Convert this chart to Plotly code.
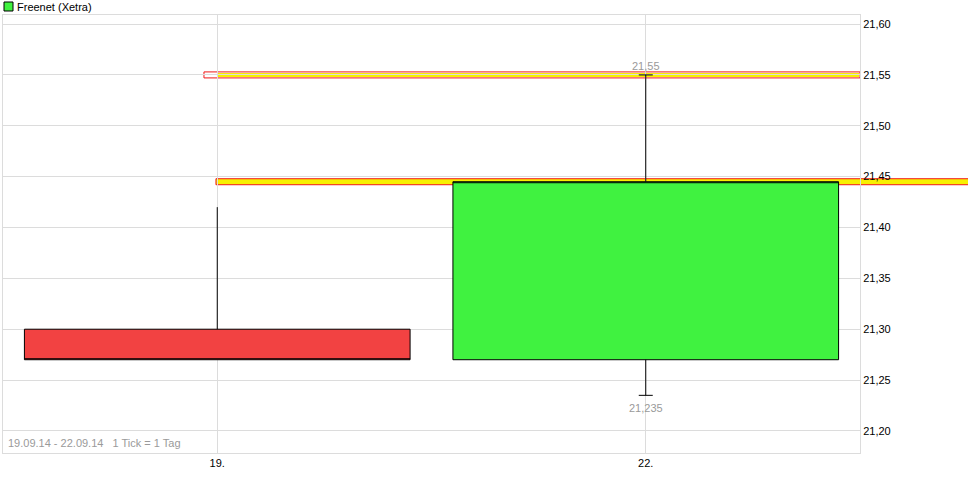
import plotly.graph_objects as go

# --- data ---
dates = ["19.", "22."]
opens = [21.30, 21.27]
highs = [21.42, 21.55]
lows = [21.27, 21.235]
closes = [21.27, 21.445]

# marker lines: period high and last price
level_high = 21.55
level_last = 21.445

y_ticks = [21.20, 21.25, 21.30, 21.35, 21.40, 21.45, 21.50, 21.55, 21.60]
title = "Freenet (Xetra)"
footer = "19.09.14 - 22.09.14   1 Tick = 1 Tag"

RED = "#f24242"
GREEN = "#40f240"
GRID = "#dcdcdc"
FONT = "Liberation Sans, Arial, sans-serif"


def fmt(v):
    return ("%g" % v).replace(".", ",")


fig = go.Figure()

fig.add_trace(go.Candlestick(
    x=dates, open=opens, high=highs, low=lows, close=closes,
    increasing=dict(fillcolor=GREEN, line=dict(color="black", width=1)),
    decreasing=dict(fillcolor=RED, line=dict(color="black", width=1)),
    showlegend=False, hoverinfo="skip",
))

# small caps at the period high and low (second day)
fig.add_trace(go.Scatter(
    x=[dates[1], dates[1]], y=[highs[1], lows[1]], mode="markers",
    marker=dict(symbol="line-ew", size=10, line=dict(color="black", width=1)),
    showlegend=False, hoverinfo="skip",
))

shapes = [
    # high line (outline starts a bit before the first day)
    dict(type="rect", xref="paper", yref="y", ysizemode="pixel", yanchor=level_high,
         x0=0.2345, x1=1.0, y0=-3, y1=3, fillcolor="white",
         line=dict(color="#f01818", width=1), layer="between"),
    dict(type="rect", xref="paper", yref="y", ysizemode="pixel", yanchor=level_high,
         x0=0.2497, x1=0.999, y0=-2, y1=2, fillcolor="#f8f000",
         line=dict(width=0), layer="between"),
    # last price line, runs past the axis labels
    dict(type="rect", xref="paper", yref="y", ysizemode="pixel", yanchor=level_last,
         x0=0.2485, x1=1.13, y0=-3, y1=3, fillcolor="#f8f000",
         line=dict(color="#f01818", width=1), layer="between"),
    # legend square
    dict(type="rect", xref="paper", yref="paper", xsizemode="pixel", ysizemode="pixel",
         xanchor=0, yanchor=1, x0=1, x1=10, y0=4, y1=13,
         fillcolor=GREEN, line=dict(color="black", width=1)),
]

i_last = dates.index(dates[1])
annotations = [
    dict(xref="paper", yref="paper", x=0.0163, y=1, xanchor="left", yanchor="bottom",
         text=title, showarrow=False, font=dict(size=11, color="black"), xshift=-2),
    dict(xref="paper", yref="paper", x=0.006, y=0, xanchor="left", yanchor="bottom",
         text=footer, showarrow=False, font=dict(size=11, color="#9a9a9a"),
         xshift=-2, yshift=2),
    dict(x=i_last, y=highs[1], xanchor="center", yanchor="bottom", text=fmt(highs[1]),
         showarrow=False, font=dict(size=11, color="#9a9a9a"), yshift=1),
    dict(x=i_last, y=lows[1], xanchor="center", yanchor="top", text=fmt(lows[1]),
         showarrow=False, font=dict(size=11, color="#9a9a9a"), yshift=-5),
]

fig.update_layout(
    width=968, height=495,
    margin=dict(l=3, r=108, t=15, b=42),
    paper_bgcolor="white", plot_bgcolor="white",
    font=dict(family=FONT, size=11, color="black"),
    separators=",.",
    boxgap=0.1, boxgroupgap=0,
    showlegend=False,
    shapes=shapes,
    annotations=annotations,
)
fig.update_xaxes(
    type="category", range=[-0.5, 1.5], rangeslider_visible=False,
    showgrid=True, gridcolor=GRID, gridwidth=1,
    showline=True, linecolor=GRID, mirror=True, ticks="",
    tickfont=dict(size=11, color="black"),
)
fig.update_yaxes(
    side="right", range=[21.1783, 21.6089],
    tickvals=y_ticks, tickformat=".2f",
    showgrid=True, gridcolor=GRID, gridwidth=1, zeroline=False,
    showline=True, linecolor=GRID, mirror=True, ticks="",
    tickfont=dict(size=11, color="black"),
)

# drop the browser's default page margin so the chart sits at the window corner
fig.write_html("out.html", config={"displayModeBar": False},
               post_script="document.body.style.margin='0';")
